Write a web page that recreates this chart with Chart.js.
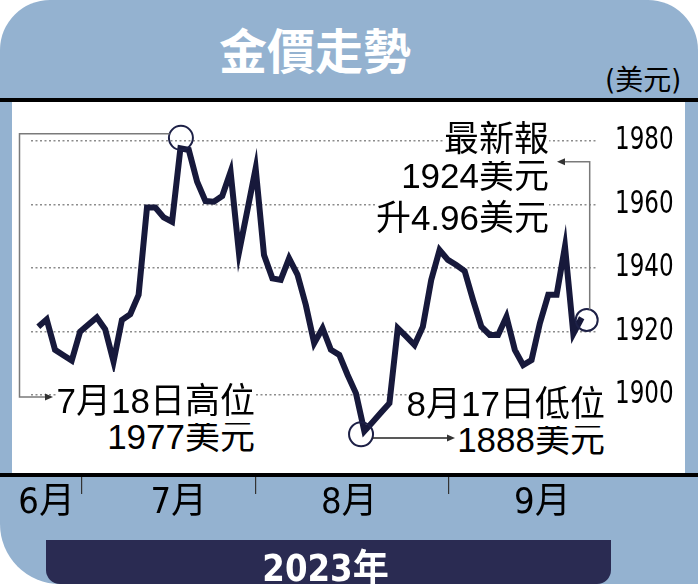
<!DOCTYPE html>
<html>
<head>
<meta charset="utf-8">
<script src="https://cdn.jsdelivr.net/npm/chart.js@4.4.0/dist/chart.umd.min.js"></script>
<style>
  html, body { margin: 0; padding: 0; background: #fff; }
  body { width: 698px; height: 584px; overflow: hidden; position: relative; }
  .abs { position: absolute; }
  #frame { left: 0; top: 0; width: 698px; height: 584px; background: #94b2d0; border-radius: 50px 50px 0 60px; }
  #panel { left: 12px; top: 102px; width: 673px; height: 371px; background: #fff; }
  .rule { left: 0; width: 698px; background: #000; }
  #title { left: 0; top: 18px; width: 630px; text-align: center; color: #fff;
           font: 700 48px "Noto Sans CJK TC", sans-serif; line-height: 60px; }
  #unit { right: 17px; top: 58px; line-height: 36px; color: #000;
          font: 28px "DejaVu Sans Condensed", "Noto Sans CJK TC", sans-serif; }
  #banner { left: 46px; top: 540px; width: 565px; height: 44px; background: #2a2b52;
            border-radius: 0 0 14px 14px; color: #fff; text-align: center; line-height: 30px;
            font: 700 38px "DejaVu Sans Condensed", "Noto Sans CJK TC", sans-serif; }
  #banner span { display: inline-block; position: relative; left: -3px; top: -3px; transform: scaleX(0.95); }
  .note { background: #fff; color: #000; white-space: nowrap; line-height: 36px;
          font: 35px "Liberation Sans", "Noto Sans CJK TC", sans-serif; }
  canvas { position: absolute; left: 0; top: 0; }
</style>
</head>
<body>
<div id="frame" class="abs"></div>
<div id="title" class="abs">金價走勢</div>
<div id="unit" class="abs">(美元)</div>
<div id="panel" class="abs"></div>
<canvas id="chart" width="698" height="584"></canvas>
<div class="abs rule" style="top:98px;height:4px"></div>
<div class="abs rule" style="top:473px;height:4px"></div>
<div id="banner" class="abs"><span>2023年</span></div>
<div id="notes"></div>

<script>
// 金價走勢（美元），2023年6月下旬至9月下旬，每個交易日一點
const prices = [
  1921.5, 1923.8, 1914.2, 1912.5, 1910.8, 1919.9, 1922.2, 1924.4, 1920.7, 1910.5,
  1923.6, 1925.4, 1931.5, 1959.0, 1959.0, 1955.9, 1954.5, 1977.6, 1977.1, 1967.1,
  1961.0, 1960.8, 1962.6, 1970.2, 1944.8, 1958.0, 1971.3, 1944.0, 1936.7, 1936.2,
  1943.0, 1937.9, 1928.3, 1916.3, 1921.0, 1914.2, 1912.6, 1906.3, 1900.5, 1888.6,
  1891.5, 1894.5, 1897.4, 1921.0, 1918.4, 1915.7, 1921.5, 1936.2, 1945.6, 1942.5,
  1940.9, 1939.0, 1929.9, 1921.5, 1918.9, 1918.9, 1924.6, 1914.2, 1909.4, 1911.0,
  1922.6, 1931.5, 1931.5, 1946.7, 1919.3, 1924.3
];

// 月份標籤（放在各月中間）及月份分界（以交易日序號計）
const months = ['6月', '7月', '8月', '9月'];
const monthCenters = [1.0, 16.8, 37.2, 60.3];
const monthBreaks = [5.19, 26.04, 49.04];

// 右邊刻度
const yTicks = [1900, 1920, 1940, 1960, 1980];

const highIdx = 17;   // 7月18日高位
const lowIdx = 39;    // 8月17日低位

// 標註文字（右對齊，cy 為該行中線）
const notes = [
  { text: '7月18日高位', right: 255, cy: 392 },
  { text: '1977美元', right: 255, cy: 428 },
  { text: '8月17日低位', right: 605, cy: 395 },
  { text: '1888美元', right: 605, cy: 431 },
  { text: '最新報', right: 549, cy: 130 },
  { text: '1924美元', right: 549, cy: 167 },
  { text: '升4.96美元', right: 549, cy: 209 }
];

const notesBox = document.getElementById('notes');
notes.forEach((n, i) => {
  const d = document.createElement('div');
  d.className = 'abs note';
  d.textContent = n.text;
  d.style.right = (698 - n.right) + 'px';
  d.style.top = (n.cy - 20) + 'px';
  d.style.zIndex = 20 - i;   // 上一行壓在下一行之上
  notesBox.appendChild(d);
});

const narrowFont = '"DejaVu Sans Condensed", "Noto Sans CJK TC", sans-serif';
const yLabelLeft = 615;

const xTicks = months.map((m, i) => ({ value: monthCenters[i], label: m }))
  .concat(monthBreaks.map(v => ({ value: v, label: '' })))
  .sort((a, b) => a.value - b.value);

function ring(c, x, y, r) {
  c.beginPath();
  c.arc(x, y, r, 0, Math.PI * 2);
  c.stroke();
}

function arrowHead(c, x, y, dir) {
  c.beginPath();
  c.moveTo(x, y);
  c.lineTo(x - dir * 8, y - 3.5);
  c.lineTo(x - dir * 8, y + 3.5);
  c.closePath();
  c.fill();
}

// 圓圈及指示線
const calloutPlugin = {
  id: 'callouts',
  afterDatasetsDraw(chart) {
    const c = chart.ctx;
    const pts = chart.getDatasetMeta(0).data;
    const hi = pts[highIdx], lo = pts[lowIdx], last = pts[pts.length - 1];
    const hc = { x: hi.x + 0.5, y: hi.y - 10.5 };
    const lc = { x: lo.x - 3.3, y: lo.y + 3 };
    const ec = { x: last.x + 5, y: last.y + 2.3 };

    c.save();
    c.strokeStyle = '#1d2046';
    c.lineWidth = 2;
    ring(c, hc.x, hc.y, 12);
    ring(c, lc.x, lc.y, 12);
    ring(c, ec.x, ec.y, 11);

    // 高位
    c.strokeStyle = '#7a7a7a';
    c.fillStyle = '#333';
    c.lineWidth = 1.5;
    c.beginPath();
    c.moveTo(hc.x - 11.3, hc.y - 4);
    c.lineTo(19.5, hc.y - 4);
    c.lineTo(19.5, 397);
    c.lineTo(47, 397);
    c.stroke();
    arrowHead(c, 53, 397, 1);

    // 低位
    c.strokeStyle = '#222';
    c.beginPath();
    c.moveTo(lc.x + 11.4, lc.y + 3.7);
    c.lineTo(448, lc.y + 3.7);
    c.stroke();
    arrowHead(c, 455, lc.y + 3.7, 1);

    // 最新報
    c.strokeStyle = '#7a7a7a';
    c.beginPath();
    c.moveTo(ec.x + 3, ec.y - 10.6);
    c.lineTo(ec.x + 3, 161.7);
    c.lineTo(563, 161.7);
    c.stroke();
    arrowHead(c, 557, 161.7, -1);
    c.restore();

    // 右軸數字為窄體：壓窄其後繪製的刻度文字
    c.save();
    c.translate(yLabelLeft, 0);
    c.scale(0.8, 1);
    c.translate(-yLabelLeft, 0);
  },
  afterDraw(chart) {
    chart.ctx.restore();
  }
};

new Chart(document.getElementById('chart'), {
  type: 'line',
  data: {
    datasets: [{
      data: prices.map((v, i) => ({ x: i, y: v })),
      borderColor: '#17193b',
      borderWidth: 6,
      pointRadius: 0,
      tension: 0,
      fill: false,
      borderJoinStyle: 'miter'
    }]
  },
  options: {
    responsive: false,
    animation: false,
    devicePixelRatio: 1,
    layout: { padding: { left: 31, top: 108, right: 0, bottom: 0 } },
    plugins: { legend: { display: false }, tooltip: { enabled: false } },
    scales: {
      x: {
        type: 'linear',
        min: -0.873,
        max: 66.95,
        border: { display: false },
        grid: {
          drawOnChartArea: false,
          drawTicks: true,
          tickLength: 18,
          lineWidth: 1.2,
          color: ctx => (ctx.tick && monthBreaks.includes(ctx.tick.value)) ? '#333' : 'rgba(0,0,0,0)'
        },
        ticks: {
          autoSkip: false,
          maxRotation: 0,
          padding: -12,
          color: '#000',
          font: { family: narrowFont, size: 36 },
          callback: (v, i) => xTicks[i] ? xTicks[i].label : ''
        },
        afterBuildTicks: s => { s.ticks = xTicks.map(t => ({ value: t.value })); },
        afterFit: s => { s.height = 108; }
      },
      y: {
        position: 'right',
        min: 1874.5,
        max: 1990.3,
        border: { display: false, dash: [2, 2.5] },
        grid: { color: '#8c8c8c', lineWidth: 1.5, drawTicks: false },
        ticks: {
          z: 1,
          autoSkip: false,
          padding: yLabelLeft - 598,
          color: '#000',
          font: { family: narrowFont, size: 32 },
          callback: v => String(v)
        },
        afterBuildTicks: s => { s.ticks = yTicks.map(v => ({ value: v })); },
        afterFit: s => { s.width = 100; }
      }
    }
  },
  plugins: [calloutPlugin]
});
</script>
</body>
</html>
